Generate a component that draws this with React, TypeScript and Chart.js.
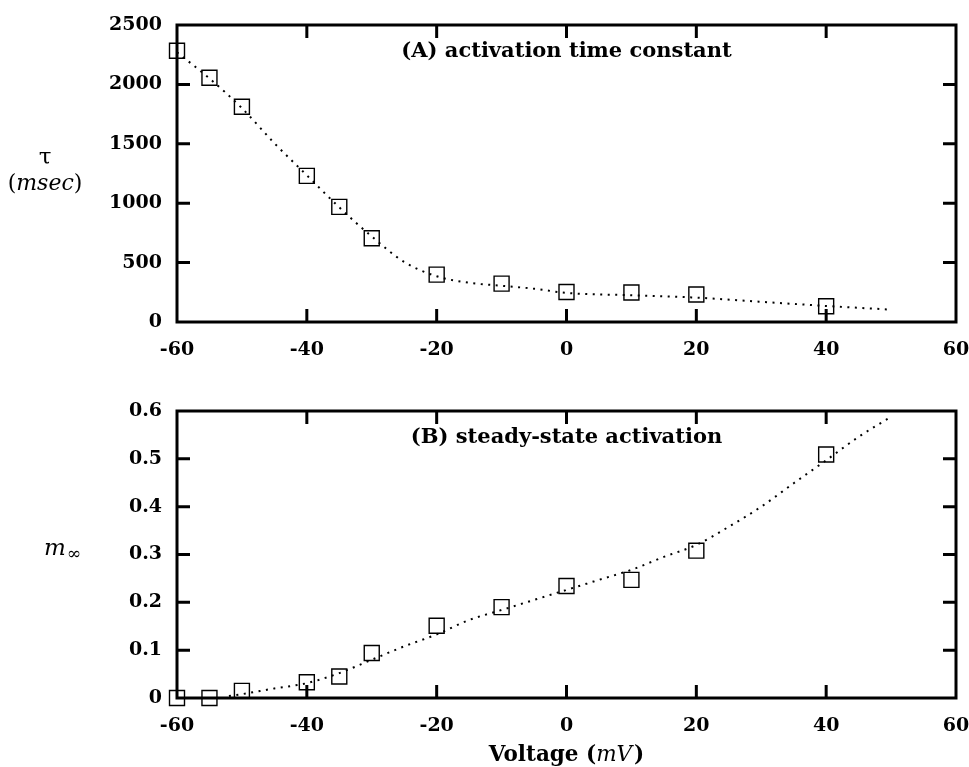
import React, { useEffect, useRef } from "react";
import { Chart, registerables } from "chart.js";

Chart.register(...registerables);

// ---------- data ----------
const voltages = [-60, -55, -50, -40, -35, -30, -20, -10, 0, 10, 20, 40];
const tauValues = [2283, 2056, 1812, 1230, 969, 705, 399, 323, 253, 248, 231, 132];
const mInfValues = [0, 0, 0.015, 0.033, 0.045, 0.094, 0.151, 0.19, 0.234, 0.247, 0.308, 0.509];

const tauFitV = [-60, -55, -50, -45, -40, -35, -30, -25, -20, -15, -10, -5, 0, 10, 20, 30, 40, 50];
const tauFitY = [2270, 2050, 1800, 1505, 1235, 965, 720, 505, 385, 330, 305, 280, 245, 225, 205, 170, 135, 104];

const mFitV = [-52, -50, -45, -40, -35, -30, -25, -20, -15, -10, -5, 0, 5, 10, 15, 20, 25, 30, 35, 40, 45, 50];
const mFitY = [0.004, 0.008, 0.02, 0.031, 0.052, 0.08, 0.108, 0.133, 0.163, 0.184, 0.205, 0.226, 0.247, 0.268, 0.295, 0.32, 0.358, 0.4, 0.449, 0.497, 0.546, 0.588];

const xTickMin = -60;
const xTickMax = 60;
const xTickStep = 20;
const tauTickMax = 2500;
const tauTickStep = 500;
const mTickMax = 0.6;
const mTickStep = 0.1;

const panelA = "(A) activation time constant";
const panelB = "(B) steady-state activation";

const SERIF = "'DejaVu Serif', serif";
const BOLD_TICK = 19;
const BOLD_PANEL = `bold 21px ${SERIF}`;
const BOLD_XT = `bold 21.5px ${SERIF}`;
const ITAL_XT = `italic 21.5px ${SERIF}`;

function zip(xs: number[], ys: number[]) {
  return xs.map((x, i) => ({ x, y: ys[i] }));
}

type Extra = (ctx: CanvasRenderingContext2D, area: any, chart: any) => void;

function makeFramePlugin(panel: string, extra: Extra) {
  return {
    id: "frameAndText",
    beforeDatasetsDraw(chart: any) {
      const { ctx, chartArea: a, scales } = chart;
      ctx.save();
      ctx.strokeStyle = "#000";
      ctx.lineWidth = 3;
      ctx.lineCap = "butt";
      ctx.strokeRect(a.left, a.top, a.right - a.left, a.bottom - a.top);
      const L = 13;
      ctx.beginPath();
      scales.x.ticks.forEach((t: any) => {
        const px = scales.x.getPixelForValue(t.value);
        if (px <= a.left + 2 || px >= a.right - 2) return;
        ctx.moveTo(px, a.bottom);
        ctx.lineTo(px, a.bottom - L);
        ctx.moveTo(px, a.top);
        ctx.lineTo(px, a.top + L);
      });
      scales.y.ticks.forEach((t: any) => {
        const py = scales.y.getPixelForValue(t.value);
        if (py <= a.top + 2 || py >= a.bottom - 2) return;
        ctx.moveTo(a.left, py);
        ctx.lineTo(a.left + L, py);
        ctx.moveTo(a.right, py);
        ctx.lineTo(a.right - L, py);
      });
      ctx.stroke();
      ctx.restore();
    },
    afterDraw(chart: any) {
      const { ctx, chartArea: a } = chart;
      ctx.save();
      ctx.fillStyle = "#000";
      ctx.font = BOLD_PANEL;
      ctx.textAlign = "center";
      ctx.textBaseline = "middle";
      ctx.fillText(panel, (a.left + a.right) / 2, a.top + 27);
      extra(ctx, a, chart);
      ctx.restore();
    },
  };
}

function baseOptions(yMax: number, yStep: number, yFmt: (v: number) => string, xHeight: number, padding: any) {
  return {
    responsive: false,
    animation: false as const,
    events: [],
    layout: { padding },
    plugins: { legend: { display: false }, tooltip: { enabled: false } },
    scales: {
      x: {
        type: "linear" as const,
        min: xTickMin,
        max: xTickMax,
        grid: { display: false, drawTicks: false },
        border: { display: false },
        afterFit: (s: any) => {
          s.height = xHeight;
          s.paddingLeft = 0;
          s.paddingRight = 0;
        },
        ticks: {
          stepSize: xTickStep,
          padding: 17,
          color: "#000",
          font: { family: SERIF, size: BOLD_TICK, weight: "bold" as const },
          maxRotation: 0,
          callback: (v: any) => String(v),
        },
      },
      y: {
        type: "linear" as const,
        min: 0,
        max: yMax,
        grid: { display: false, drawTicks: false },
        border: { display: false },
        afterFit: (s: any) => {
          s.width = 177;
          s.paddingTop = 0;
          s.paddingBottom = 0;
        },
        ticks: {
          stepSize: yStep,
          padding: 15,
          color: "#000",
          font: { family: SERIF, size: BOLD_TICK, weight: "bold" as const },
          callback: (v: any) => yFmt(Number(v)),
        },
      },
    },
  };
}

function datasets(xs: number[], ys: number[], fx: number[], fy: number[]) {
  return [
    {
      label: "measured",
      data: zip(xs, ys),
      showLine: false,
      pointStyle: "rect" as const,
      pointRadius: 10.6,
      pointBorderWidth: 1.4,
      pointBorderColor: "#000",
      pointBackgroundColor: "rgba(0,0,0,0)",
      borderColor: "#000",
      clip: false as any,
    },
    {
      label: "fit",
      data: zip(fx, fy),
      showLine: true,
      pointRadius: 0,
      borderColor: "#000",
      borderWidth: 2,
      borderDash: [2, 5.5],
      cubicInterpolationMode: "monotone" as const,
      fill: false,
      clip: false as any,
    },
  ];
}

export default function App() {
  const topRef = useRef<HTMLCanvasElement>(null);
  const botRef = useRef<HTMLCanvasElement>(null);

  useEffect(() => {
    const topExtra: Extra = (ctx) => {
      ctx.textAlign = "center";
      ctx.textBaseline = "alphabetic";
      ctx.font = `23px ${SERIF}`;
      ctx.fillText("τ", 45, 164);
      // (msec)
      const y = 190;
      ctx.font = `22px ${SERIF}`;
      const p1 = ctx.measureText("(").width;
      const p2 = ctx.measureText(")").width;
      ctx.font = `italic 22px ${SERIF}`;
      const mw = ctx.measureText("msec").width;
      const total = p1 + mw + p2;
      let x = 45 - total / 2;
      ctx.textAlign = "left";
      ctx.font = `22px ${SERIF}`;
      ctx.fillText("(", x, y);
      x += p1;
      ctx.font = `italic 22px ${SERIF}`;
      ctx.fillText("msec", x, y);
      x += mw;
      ctx.font = `22px ${SERIF}`;
      ctx.fillText(")", x, y);
    };
    const botExtra: Extra = (ctx, a) => {
      ctx.textAlign = "left";
      ctx.textBaseline = "alphabetic";
      ctx.font = `italic 23px ${SERIF}`;
      ctx.fillText("m", 44, 170);
      const mw = ctx.measureText("m").width;
      ctx.font = `17px ${SERIF}`;
      ctx.fillText("∞", 44 + mw + 1, 174);
      // Voltage (mV)
      const y = 376;
      ctx.font = BOLD_XT;
      const w1 = ctx.measureText("Voltage (").width;
      ctx.font = ITAL_XT;
      const w2 = ctx.measureText("mV").width;
      ctx.font = BOLD_XT;
      const w3 = ctx.measureText(")").width;
      let x = (a.left + a.right) / 2 - (w1 + w2 + w3 + 2) / 2;
      ctx.fillText("Voltage (", x, y);
      x += w1;
      ctx.font = ITAL_XT;
      ctx.fillText("mV", x, y);
      x += w2 + 2;
      ctx.font = BOLD_XT;
      ctx.fillText(")", x, y);
    };

    const top = new Chart(topRef.current as HTMLCanvasElement, {
      type: "scatter",
      data: { datasets: datasets(voltages, tauValues, tauFitV, tauFitY) as any },
      options: baseOptions(tauTickMax, tauTickStep, (v) => String(v), 40, { left: 0, right: 13, top: 25, bottom: 23 }) as any,
      plugins: [makeFramePlugin(panelA, topExtra)],
    });
    const bot = new Chart(botRef.current as HTMLCanvasElement, {
      type: "scatter",
      data: { datasets: datasets(voltages, mInfValues, mFitV, mFitY) as any },
      options: baseOptions(mTickMax, mTickStep, (v) => String(Math.round(v * 10) / 10), 40, { left: 0, right: 13, top: 26, bottom: 29 }) as any,
      plugins: [makeFramePlugin(panelB, botExtra)],
    });
    return () => {
      top.destroy();
      bot.destroy();
    };
  }, []);

  return (
    <div style={{ position: "absolute", left: 0, top: 0, width: 969, height: 767, background: "#fff" }}>
      <canvas ref={topRef} width={969} height={385} style={{ position: "absolute", left: 0, top: 0, display: "block" }} />
      <canvas ref={botRef} width={969} height={382} style={{ position: "absolute", left: 0, top: 385, display: "block" }} />
    </div>
  );
}
